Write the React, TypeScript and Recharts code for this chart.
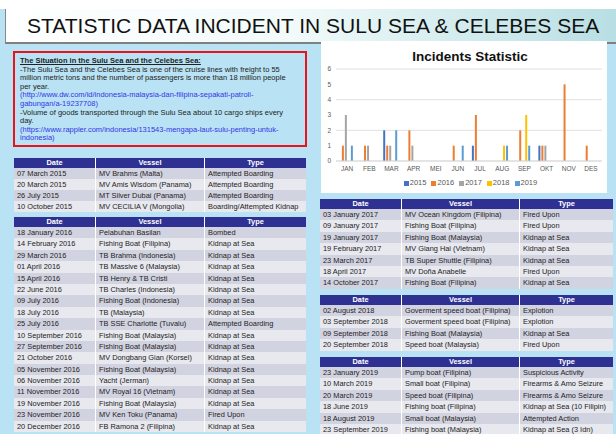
import { BarChart, Bar, CartesianGrid, XAxis, YAxis, Legend } from 'recharts';

const months = ['JAN', 'FEB', 'MAR', 'APR', 'MEI', 'JUN', 'JUL', 'AUG', 'SEP', 'OKT', 'NOV', 'DES'];
const years = ['2015', '2016', '2017', '2018', '2019'];
const count2015 = [0, 0, 2, 0, 0, 0, 1, 0, 0, 1, 0, 0];
const count2016 = [1, 1, 1, 2, 0, 1, 3, 0, 2, 1, 5, 1];
const count2017 = [3, 1, 1, 1, 0, 0, 0, 0, 0, 1, 0, 0];
const count2018 = [0, 0, 0, 0, 0, 0, 0, 1, 3, 0, 0, 0];
const count2019 = [1, 0, 2, 0, 0, 1, 0, 1, 1, 0, 0, 0];
const yTicks = [0, 1, 2, 3, 4, 5, 6];

const palette = ['#4472c4', '#ed7d31', '#a5a5a5', '#ffc000', '#5b9bd5'];

const headers = ['Date', 'Vessel', 'Type'];

const rows2015 = [
  ['07 March 2015', 'MV Brahms (Malta)', 'Attempted Boarding'],
  ['20 March 2015', 'MV Amis Wisdom (Panama)', 'Attempted Boarding'],
  ['26 July 2015', 'MT Silver Dubai (Panama)', 'Attempted Boarding'],
  ['10 October 2015', 'MV CECILIA V (Mongolia)', 'Boarding/Attempted Kidnap'],
];

const rows2016 = [
  ['18 January 2016', 'Pelabuhan Basilan', 'Bombed'],
  ['14 February 2016', 'Fishing Boat  (Filipina)', 'Kidnap at Sea'],
  ['29 March 2016', 'TB Brahma (Indonesia)', 'Kidnap at Sea'],
  ['01 April 2016', 'TB Massive 6 (Malaysia)', 'Kidnap at Sea'],
  ['15 April 2016', 'TB Henry & TB Cristi', 'Kidnap at Sea'],
  ['22 June 2016', 'TB Charles (Indonesia)', 'Kidnap at Sea'],
  ['09 July 2016', 'Fishing Boat (Indonesia)', 'Kidnap at Sea'],
  ['18 July 2016', 'TB (Malaysia)', 'Kidnap at Sea'],
  ['25 July 2016', 'TB SSE Charlotte  (Tuvalu)', 'Attempted Boarding'],
  ['10 September 2016', 'Fishing Boat (Malaysia)', 'Kidnap at Sea'],
  ['27 September 2016', 'Fishing Boat (Malaysia)', 'Kidnap at Sea'],
  ['21 October 2016', 'MV Dongbang Gian (Korsel)', 'Kidnap at Sea'],
  ['05 November 2016', 'Fishing Boat (Malaysia)', 'Kidnap at Sea'],
  ['06 November 2016', 'Yacht (Jerman)', 'Kidnap at Sea'],
  ['11 November 2016', 'MV Royal 16 (Vietnam)', 'Kidnap at Sea'],
  ['19 November 2016', 'Fishing Boat (Malaysia)', 'Kidnap at Sea'],
  ['23 November 2016', 'MV Ken Toku (Panama)', 'Fired Upon'],
  ['20 December 2016', 'FB Ramona 2 (Filipina)', 'Kidnap at Sea'],
];

const rows2017 = [
  ['03 January 2017', 'MV Ocean Kingdom (Filipina)', 'Fired Upon'],
  ['09 January 2017', 'Fishing Boat (Filipina)', 'Fired Upon'],
  ['19 January 2017', 'Fishing Boat (Malaysia)', 'Kidnap at Sea'],
  ['19 February 2017', 'MV Giang Hai (Vietnam)', 'Kidnap at Sea'],
  ['23 March 2017', 'TB Super Shuttle (Filipina)', 'Kidnap at Sea'],
  ['18 April 2017', 'MV Doña Anabelle', 'Fired Upon'],
  ['14 October 2017', 'Fishing Boat (Filipina)', 'Kidnap at Sea'],
];

const rows2018 = [
  ['02 August 2018', 'Goverment speed boat (Filipina)', 'Explotion'],
  ['03 September 2018', 'Goverment speed boat (Filipina)', 'Explotion'],
  ['09 September 2018', 'Fishing Boat (Malaysia)', 'Kidnap at Sea'],
  ['20 September 2018', 'Speed boat (Malaysia)', 'Fired Upon'],
];

const rows2019 = [
  ['23 January 2019', 'Pump boat (Filipina)', 'Suspicious Activity'],
  ['10 March 2019', 'Small boat (Filipina)', 'Firearms & Amo Seizure'],
  ['20 March 2019', 'Speed boat (Filipina)', 'Firearms & Amo Seizure'],
  ['18 June 2019', 'Fishing boat (Filipina)', 'Kidnap at Sea (10 Filipin)'],
  ['18 August 2019', 'Small boat (Malaysia)', 'Attempted Action'],
  ['23 September 2019', 'Fishing boat (Malaysia)', 'Kidnap at Sea (3 Idn)'],
];

const noteLines = [
  '-The Sulu Sea and the Celebes Sea is one of the cruise lines with freight to 55',
  'million metric tons and the number of passengers is more than 18 million people',
  'per year.',
];
const noteLink1 = ['(http://www.dw.com/id/indonesia-malaysia-dan-filipina-sepakati-patroli-', 'gabungan/a-19237708)'];
const noteLines2 = ['-Volume of goods transported through the Sulu Sea about 10 cargo ships every', 'day.'];
const noteLink2 = ['(https://www.rappler.com/indonesia/131543-mengapa-laut-sulu-penting-untuk-', 'indonesia)'];

const font = '"Liberation Sans", Arial, sans-serif';

type TableProps = {
  x: number;
  y: number;
  widths: number[];
  rowH: number;
  rows: string[][];
};

const IncidentTable = ({ x, y, widths, rowH, rows }: TableProps) => {
  const total = widths.reduce((a, b) => a + b, 0);
  return (
    <div style={{ position: 'absolute', left: x, top: y, width: total, fontFamily: font, fontSize: 7.4 }}>
      <div style={{ display: 'flex', height: 10, background: '#2e3192', color: '#fff', fontWeight: 'bold' }}>
        {headers.map((h, i) => (
          <div
            key={h}
            style={{
              width: widths[i],
              textAlign: 'center',
              lineHeight: '10px',
              borderRight: i < 2 ? '1px solid #fff' : 'none',
              boxSizing: 'border-box',
            }}
          >
            {h}
          </div>
        ))}
      </div>
      {rows.map((r, ri) => (
        <div
          key={ri}
          style={{ display: 'flex', height: rowH, background: ri % 2 === 0 ? '#d2d3e0' : '#e8e8ef', color: '#222' }}
        >
          {r.map((c, ci) => (
            <div
              key={ci}
              style={{
                width: widths[ci],
                paddingLeft: 3,
                lineHeight: `${rowH}px`,
                whiteSpace: 'nowrap',
                overflow: 'hidden',
                borderRight: ci < 2 ? '1px solid #fff' : 'none',
                boxSizing: 'border-box',
              }}
            >
              {c}
            </div>
          ))}
        </div>
      ))}
    </div>
  );
};

const App = () => {
  const data = months.map((m, i) => ({
    month: m,
    '2015': count2015[i],
    '2016': count2016[i],
    '2017': count2017[i],
    '2018': count2018[i],
    '2019': count2019[i],
  }));

  return (
    <div
      style={{
        position: 'fixed',
        left: 0,
        top: 0,
        width: 616,
        height: 434,
        overflow: 'hidden',
        background: '#b9e2f4',
        fontFamily: font,
      }}
    >
      <style>{`
        .incidents .recharts-legend-item { margin-right: 5px !important; }
        .incidents .recharts-legend-item svg { margin-right: 1px !important; }
      `}</style>

      {/* title bar */}
      <div style={{ position: 'absolute', left: 0, top: 0, width: 616, height: 9, background: '#fff' }} />
      <div
        style={{
          position: 'absolute',
          left: 5,
          top: 9,
          width: 611,
          height: 33,
          background: 'linear-gradient(90deg, #ffffff 0%, #f2fafa 45%, #b4dde2 100%)',
          borderLeft: '1px solid #888',
          borderBottom: '2px solid #808080',
          fontSize: 21,
          lineHeight: '33px',
          color: '#111',
          paddingLeft: 21,
          boxSizing: 'content-box',
        }}
      >
        STATISTIC DATA INCIDENT IN SULU SEA &amp; CELEBES SEA
      </div>

      {/* note box */}
      <div
        style={{
          position: 'absolute',
          left: 13,
          top: 51,
          width: 294,
          height: 96,
          border: '2.5px solid #e8141b',
          boxSizing: 'border-box',
          padding: '4px 0 0 5px',
          fontSize: 7.5,
          lineHeight: '8.6px',
          color: '#222',
          whiteSpace: 'nowrap',
        }}
      >
        <div style={{ fontWeight: 'bold', textDecoration: 'underline' }}>The Situation in the Sulu Sea and the Celebes Sea:</div>
        {noteLines.map((l) => (
          <div key={l}>{l}</div>
        ))}
        {noteLink1.map((l) => (
          <div key={l} style={{ color: '#3535e8' }}>{l}</div>
        ))}
        {noteLines2.map((l) => (
          <div key={l}>{l}</div>
        ))}
        {noteLink2.map((l) => (
          <div key={l} style={{ color: '#3535e8' }}>{l}</div>
        ))}
      </div>

      <IncidentTable x={14} y={158} widths={[82, 109, 101]} rowH={11} rows={rows2015} />
      <IncidentTable x={14} y={217} widths={[82, 109, 101]} rowH={11.4} rows={rows2016} />

      {/* chart panel */}
      <div style={{ position: 'absolute', left: 321, top: 41, width: 286, height: 152, background: '#fff' }} />
      <div
        style={{
          position: 'absolute',
          left: 327,
          top: 49,
          width: 286,
          textAlign: 'center',
          fontSize: 13.5,
          fontWeight: 'bold',
          color: '#111',
        }}
      >
        Incidents Statistic
      </div>
      <div className="incidents" style={{ position: 'absolute', left: 320, top: 60 }}>
        <BarChart
          width={288}
          height={134}
          data={data}
          margin={{ top: 9, right: 6, bottom: 4, left: 0 }}
          barGap={1}
          barCategoryGap="13%"
        >
          <CartesianGrid vertical={false} stroke="#d9d9d9" strokeWidth={0.8} />
          <XAxis
            dataKey="month"
            height={15}
            tickLine={false}
            tickSize={3}
            axisLine={{ stroke: '#d9d9d9' }}
            tick={{ fontSize: 6.5, fill: '#595959' }}
            interval={0}
          />
          <YAxis
            width={16}
            domain={[0, 6]}
            ticks={yTicks}
            tickLine={false}
            axisLine={false}
            tickSize={3}
            tick={{ fontSize: 6.5, fill: '#595959' }}
          />
          <Legend
            verticalAlign="bottom"
            height={14}
            iconType="square"
            iconSize={5}
            wrapperStyle={{ fontSize: 7.5, lineHeight: '14px', paddingLeft: 12 }}
            formatter={(value: string) => <span style={{ color: '#595959' }}>{value}</span>}
          />
          {years.map((y, i) => (
            <Bar key={y} dataKey={y} fill={palette[i]} isAnimationActive={false} />
          ))}
        </BarChart>
      </div>

      <IncidentTable x={320} y={199} widths={[82, 118, 93]} rowH={11.4} rows={rows2017} />
      <IncidentTable x={320} y={295} widths={[82, 118, 93]} rowH={11.4} rows={rows2018} />
      <IncidentTable x={320} y={357} widths={[82, 118, 93]} rowH={11.4} rows={rows2019} />
    </div>
  );
};

export default App;
